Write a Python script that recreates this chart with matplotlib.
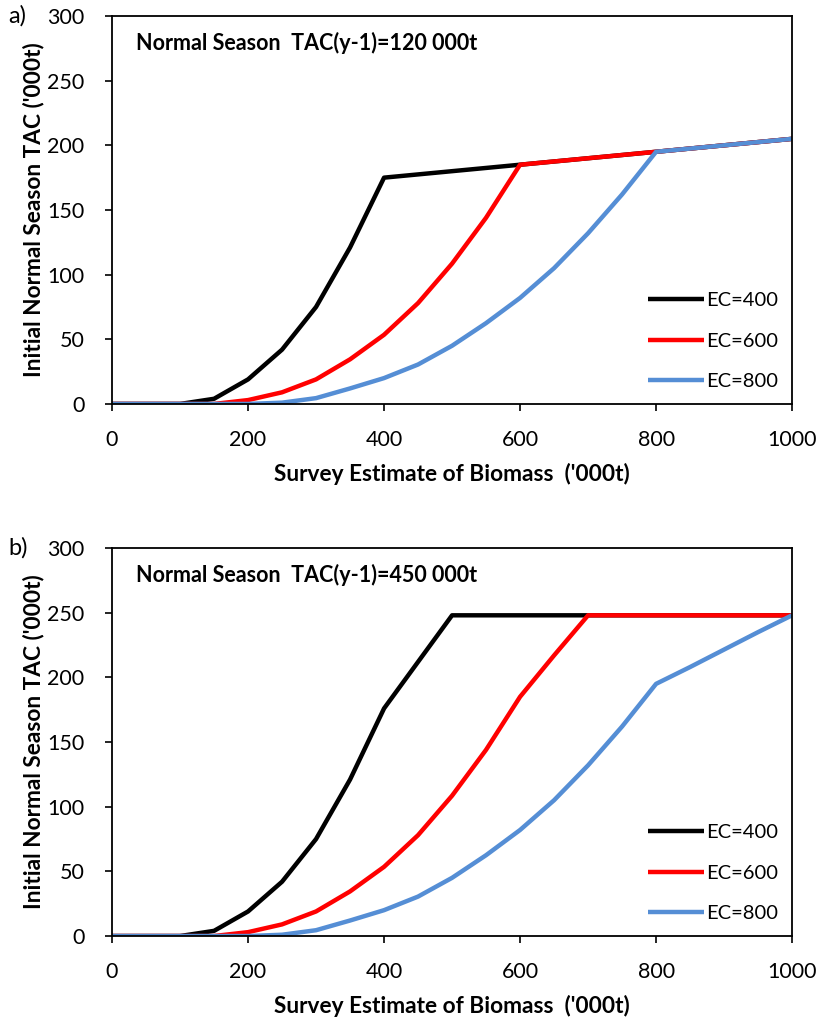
"""Initial normal season TAC vs survey biomass for three EC values -> out.png"""
import matplotlib
matplotlib.use("Agg")
import matplotlib.pyplot as plt

plt.rcParams["font.family"] = ["Lato", "DejaVu Sans"]

biomass = [0, 50, 100, 150, 200, 250, 300, 350, 400, 450, 500, 550, 600, 650, 700,
           750, 800, 850, 900, 950, 1000]

# a) TAC(y-1) = 120 000t
a_ec400 = [0, 0, 0, 4, 19, 42, 75, 121, 175, 177.5, 180, 182.5, 185, 187.5, 190,
           192.5, 195, 197.5, 200, 202.5, 205]
a_ec600 = [0, 0, 0, 0, 3, 9, 19, 34.5, 53.5, 78, 108.5, 144, 185, 187.5, 190,
           192.5, 195, 197.5, 200, 202.5, 205]
a_ec800 = [0, 0, 0, 0, 0, 1, 4.5, 12, 20, 30.5, 45, 62.5, 82, 105, 132,
           162, 195, 197.5, 200, 202.5, 205]

# b) TAC(y-1) = 450 000t
b_ec400 = [0, 0, 0, 4, 19, 42, 75, 121, 176, 212, 248, 248, 248, 248, 248,
           248, 248, 248, 248, 248, 248]
b_ec600 = [0, 0, 0, 0, 3, 9, 19, 34.5, 53.5, 78, 108.5, 144, 185, 217, 248,
           248, 248, 248, 248, 248, 248]
b_ec800 = [0, 0, 0, 0, 0, 1, 4.5, 12, 20, 30.5, 45, 62.5, 82, 105, 132,
           162, 195, 208, 221.5, 235, 248]

labels = ["EC=400", "EC=600", "EC=800"]
colors = ["black", "#ff0000", "#558ed5"]
panels = [("a)", "Normal Season  TAC(y-1)=120 000t", [a_ec400, a_ec600, a_ec800]),
          ("b)", "Normal Season  TAC(y-1)=450 000t", [b_ec400, b_ec600, b_ec800])]

fig = plt.figure(figsize=(8.22, 10.25), dpi=100)
bottoms = [0.6059, 0.0868]

for (tag, title, series), bot in zip(panels, bottoms):
    ax = fig.add_axes([0.1363, bot, 0.8273, 0.3785])
    for ys, lab, c in zip(series, labels, colors):
        ax.plot(biomass, ys, color=c, lw=3.2, label=lab, solid_capstyle="butt")
    ax.set_xlim(0, 1000); ax.set_ylim(0, 300)
    ax.set_xticks(range(0, 1001, 200)); ax.set_yticks(range(0, 301, 50))
    ax.tick_params(direction="out", length=5, width=1.2, labelsize=15.5,
                   right=False, top=False)
    ax.tick_params(axis="x", pad=14)
    ax.tick_params(axis="y", pad=15)
    for s in ax.spines.values():
        s.set_linewidth(1.3)
    ax.set_xlabel("Survey Estimate of Biomass  ('000t)", fontsize=16.3, fontweight="bold", labelpad=9)
    ax.set_ylabel("Initial Normal Season TAC ('000t)", fontsize=16.3, fontweight="bold", labelpad=2)
    ax.text(0.035, 0.93, title, transform=ax.transAxes, fontsize=15.5, fontweight="bold",
            ha="left", va="center")
    ax.text(-0.152, 1.0, tag, transform=ax.transAxes, fontsize=17, ha="left", va="center")
    ax.legend(loc="lower right", frameon=False, fontsize=14.5, handlelength=2.8,
              handletextpad=0.1, labelspacing=1.15, borderaxespad=0.3)

fig.savefig("out.png", dpi=100)
print("[saved] out.png")
